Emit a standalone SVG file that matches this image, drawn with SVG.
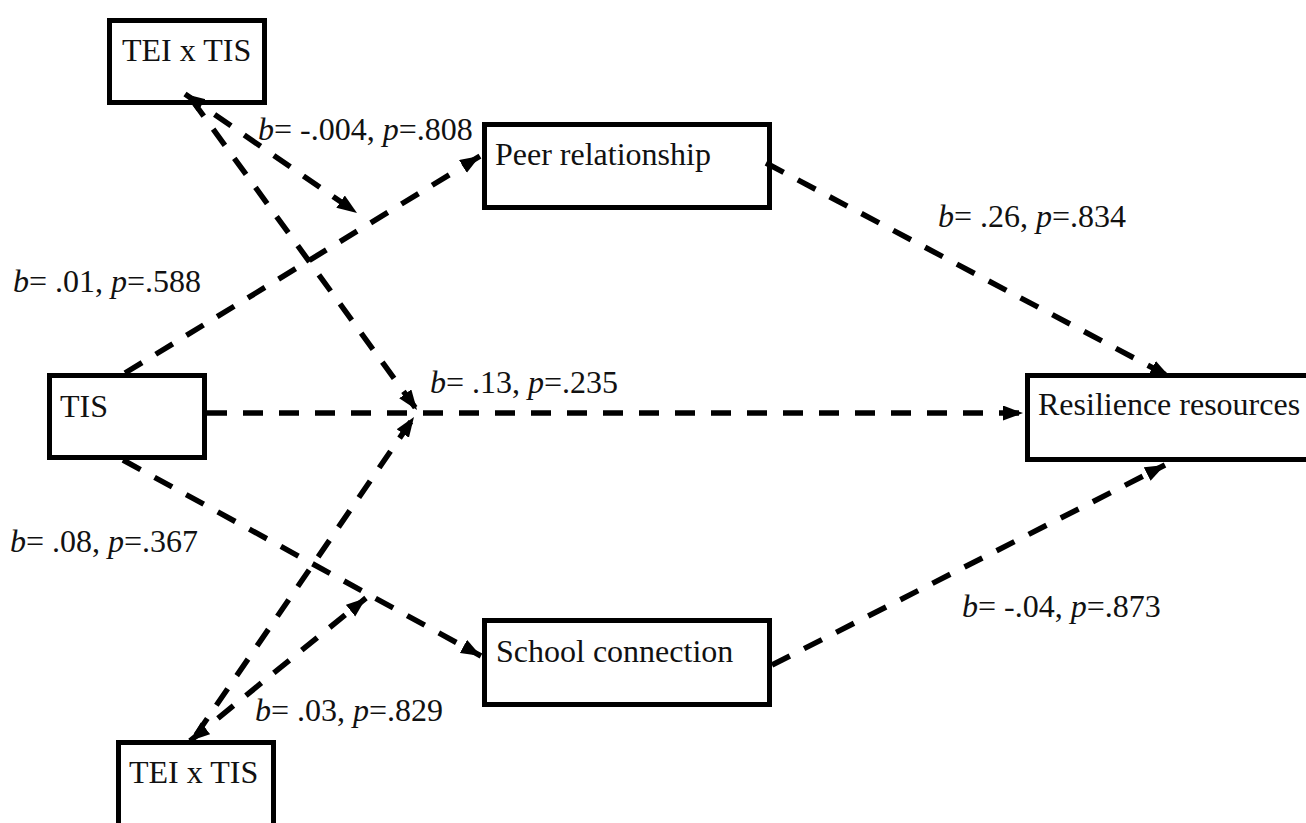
<svg xmlns="http://www.w3.org/2000/svg" width="1306" height="823" viewBox="0 0 1306 823">
<style>
.box{fill:#fff;stroke:#000;stroke-width:5}
.t{font-family:'Liberation Serif','DejaVu Serif',serif;font-size:32px;fill:#111}
.i{font-style:italic}
.c{fill:none;stroke:#000;stroke-width:5.5;stroke-dasharray:20 16}
</style>
<defs>
<marker id="ah" markerUnits="userSpaceOnUse" markerWidth="22" markerHeight="16" refX="20" refY="7.5" orient="auto-start-reverse">
<path d="M0,0 L20,7.5 L0,15 Z" fill="#000"/>
</marker>
</defs>
<rect width="1306" height="823" fill="#fff"/>
<g id="tei_top"><rect class="box" x="109.5" y="20.5" width="155" height="82"/><text class="t" x="122" y="61">TEI x TIS</text></g>
<g id="tis"><rect class="box" x="49.5" y="375.5" width="155" height="82"/><text class="t" x="60" y="417">TIS</text></g>
<g id="tei_bottom"><rect class="box" x="118.5" y="742.5" width="155" height="100"/><text class="t" x="129" y="783">TEI x TIS</text></g>
<g id="peer"><rect class="box" x="484.5" y="124.5" width="285" height="83"/><text class="t" x="495" y="165">Peer relationship</text></g>
<g id="school"><rect class="box" x="484.5" y="620.5" width="285" height="84"/><text class="t" x="496" y="662">School connection</text></g>
<g id="connectors">
<line class="c" x1="125" y1="373" x2="480" y2="156" marker-end="url(#ah)"/>
<line class="c" x1="185" y1="94" x2="357" y2="213" marker-start="url(#ah)" marker-end="url(#ah)"/>
<line class="c" x1="192" y1="100" x2="417" y2="410" marker-end="url(#ah)"/>
<line class="c" x1="207" y1="413" x2="1023" y2="413" marker-end="url(#ah)"/>
<line class="c" x1="123" y1="460" x2="481" y2="656" marker-end="url(#ah)"/>
<line class="c" x1="196" y1="735" x2="414" y2="417" marker-end="url(#ah)"/>
<line class="c" x1="190" y1="741" x2="366" y2="598" marker-start="url(#ah)" marker-end="url(#ah)"/>
<line class="c" x1="766" y1="163" x2="1170" y2="377" marker-end="url(#ah)"/>
<line class="c" x1="772" y1="665" x2="1165" y2="465" marker-end="url(#ah)"/>
</g>
<g id="resilience"><rect class="box" x="1027.5" y="375.5" width="300" height="84"/><text class="t" x="1038" y="415">Resilience resources</text></g>
<g id="labels">
<text class="t" x="258" y="140"><tspan class="i">b</tspan>= -.004, <tspan class="i">p</tspan>=.808</text>
<text class="t" x="938" y="227"><tspan class="i">b</tspan>= .26, <tspan class="i">p</tspan>=.834</text>
<text class="t" x="13" y="292"><tspan class="i">b</tspan>= .01, <tspan class="i">p</tspan>=.588</text>
<text class="t" x="430" y="393"><tspan class="i">b</tspan>= .13, <tspan class="i">p</tspan>=.235</text>
<text class="t" x="10" y="552"><tspan class="i">b</tspan>= .08, <tspan class="i">p</tspan>=.367</text>
<text class="t" x="962" y="617"><tspan class="i">b</tspan>= -.04, <tspan class="i">p</tspan>=.873</text>
<text class="t" x="255" y="721"><tspan class="i">b</tspan>= .03, <tspan class="i">p</tspan>=.829</text>
</g>
</svg>
